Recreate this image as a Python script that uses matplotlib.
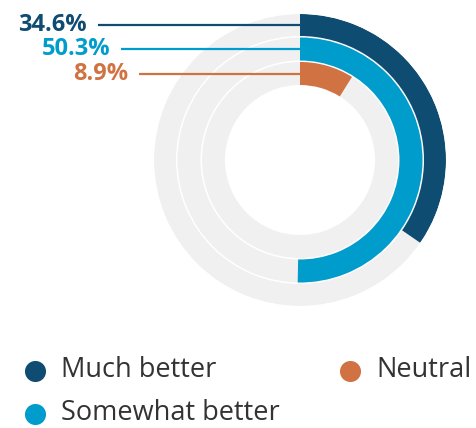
import matplotlib.pyplot as plt
import numpy as np

# data
labels = ['Much better', 'Somewhat better', 'Neutral']
values = [34.6, 50.3, 8.9]
colors = ['#0f4c71', '#009ccc', '#d07242']
track = '#f0f0f0'

# ring geometry in pixels (outer -> inner)
r_in = [124, 99.5, 75]
r_out = [146, 122.5, 98]
cx, cy, R = 300, 160, 146
W, H = 477, 428

plt.rcParams['font.family'] = ['Open Sans', 'DejaVu Sans']
fig = plt.figure(figsize=(W / 100, H / 100), dpi=100)

# polar axes for the rings
ax = fig.add_axes([(cx - R) / W, (H - cy - R) / H, 2 * R / W, 2 * R / H], projection='polar')
ax.set_theta_zero_location('N')
ax.set_theta_direction(-1)
ax.set_ylim(0, R)
ax.axis('off')
for v, c, a, b in zip(values, colors, r_in, r_out):
    ax.bar(0, b - a, width=2 * np.pi, bottom=a, align='edge', color=track, linewidth=0)
    ax.bar(0, b - a, width=v / 100 * 2 * np.pi, bottom=a, align='edge', color=c, linewidth=0)

# overlay in pixel coords for labels + legend
ov = fig.add_axes([0, 0, 1, 1])
ov.set_xlim(0, W)
ov.set_ylim(H, 0)
ov.axis('off')

label_x = [87, 110, 128]
for v, c, a, b, lx in zip(values, colors, r_in, r_out, label_x):
    y = cy - (a + b) / 2
    ov.plot([lx + 11, cx], [y, y], color=c, lw=1.6, solid_capstyle='butt')
    ov.text(lx, y, f'{v}%', color=c, fontsize=17, fontweight='bold', ha='right', va='center')

leg_pos = [(35, 371), (35, 414), (350, 371)]
for (lx, ly), lab, c in zip(leg_pos, labels, colors):
    ov.scatter([lx], [ly], s=230, color=c, linewidth=0)
    ov.text(lx + 26, ly - 1, lab, color='#333333', fontsize=19.5, va='center', ha='left')

fig.savefig('out.png', dpi=100)
